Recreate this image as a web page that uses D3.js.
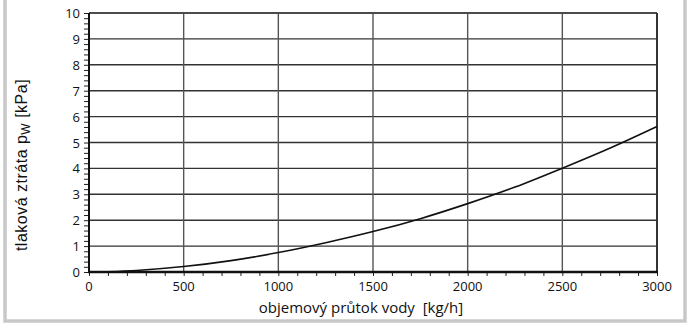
<!DOCTYPE html>
<html>
<head>
<meta charset="utf-8">
<script src="https://cdn.jsdelivr.net/npm/d3@7"></script>
<style>
  html, body { margin: 0; padding: 0; background: #fff; }
  svg { display: block; }
</style>
</head>
<body>
<svg id="chart" width="690" height="324"></svg>
<script>
// Water flow rate [kg/h] and pressure loss [kPa]
const flowRates = [100, 250, 500, 750, 1000, 1250, 1500, 1750, 2000, 2250, 2500, 2750, 3000];
const pressureLoss = [0.01, 0.06, 0.21, 0.44, 0.75, 1.13, 1.56, 2.06, 2.64, 3.28, 4.01, 4.78, 5.62];
const xTicks = [0, 500, 1000, 1500, 2000, 2500, 3000];
const yTicks = [0, 1, 2, 3, 4, 5, 6, 7, 8, 9, 10];

const svg = d3.select("#chart");
const m = { left: 89, right: 657, top: 13, bottom: 272 };

// outer frame
svg.append("rect").attr("x", 5).attr("y", -4).attr("width", 680).attr("height", 325)
  .attr("fill", "#fff").attr("stroke", "#c8c8c8").attr("stroke-width", 3.5);

const x = d3.scaleLinear().domain([0, 3000]).range([m.left, m.right]);
const y = d3.scaleLinear().domain([0, 10]).range([m.bottom, m.top]);

// grid
const grid = svg.append("g");
grid.selectAll("line.h").data(yTicks.slice(1)).join("line")
  .attr("x1", m.left).attr("x2", m.right)
  .attr("y1", d => y(d)).attr("y2", d => y(d))
  .attr("stroke", "#333").attr("stroke-width", 1.4);
grid.selectAll("line.v").data(xTicks.slice(1)).join("line")
  .attr("y1", m.top).attr("y2", m.bottom)
  .attr("x1", d => x(d)).attr("x2", d => x(d))
  .attr("stroke", "#555").attr("stroke-width", 1.4);

// minor ticks
const yMinor = d3.range(0, 10.001, 0.2);
const xMinor = d3.range(0, 3000.1, 100);

const yAxis = d3.axisLeft(y).tickValues(yMinor).tickSize(5).tickFormat("");
const xAxis = d3.axisBottom(x).tickValues(xMinor).tickSize(4).tickFormat("");

const gy = svg.append("g").attr("transform", `translate(${m.left},0)`).call(yAxis);
const gx = svg.append("g").attr("transform", `translate(0,${m.bottom})`).call(xAxis);
[gy, gx].forEach(g => {
  g.select(".domain").remove();
  g.selectAll(".tick line").attr("stroke", "#222").attr("stroke-width", 1);
});

// major tick labels
svg.append("g").selectAll("text").data(yTicks).join("text")
  .attr("x", 80).attr("y", d => y(d) + 5)
  .attr("text-anchor", "end")
  .attr("font-family", "'Open Sans', sans-serif").attr("font-size", 13)
  .attr("fill", "#111")
  .text(d => d);
svg.append("g").selectAll("text").data(xTicks).join("text")
  .attr("x", d => x(d)).attr("y", 291)
  .attr("text-anchor", "middle")
  .attr("font-family", "'Open Sans', sans-serif").attr("font-size", 13)
  .attr("fill", "#111")
  .text(d => d);

// plot frame
svg.append("line").attr("x1", m.left).attr("x2", m.right).attr("y1", m.top).attr("y2", m.top)
  .attr("stroke", "#444").attr("stroke-width", 1.5);
svg.append("line").attr("x1", m.right).attr("x2", m.right).attr("y1", m.top).attr("y2", m.bottom)
  .attr("stroke", "#333").attr("stroke-width", 2);
svg.append("line").attr("x1", m.left).attr("x2", m.left).attr("y1", m.top).attr("y2", m.bottom + 1)
  .attr("stroke", "#111").attr("stroke-width", 2);
svg.append("line").attr("x1", m.left - 1).attr("x2", m.right + 1).attr("y1", m.bottom).attr("y2", m.bottom)
  .attr("stroke", "#111").attr("stroke-width", 2.5);

// curve
const line = d3.line()
  .x((d, i) => x(flowRates[i]))
  .y(d => y(d))
  .curve(d3.curveMonotoneX);
svg.append("path").datum(pressureLoss)
  .attr("d", line)
  .attr("fill", "none").attr("stroke", "#111").attr("stroke-width", 1.6);

// axis titles
svg.append("text")
  .attr("x", 361).attr("y", 313)
  .attr("text-anchor", "middle")
  .attr("font-family", "'Open Sans', sans-serif").attr("font-size", 15)
  .attr("fill", "#111")
  .text("objemový průtok vody\u00a0\u00a0[kg/h]");

const yt = svg.append("text")
  .attr("transform", "translate(27,165) rotate(-90)")
  .attr("text-anchor", "middle")
  .attr("font-family", "'Liberation Sans', Arial, sans-serif").attr("font-size", 16)
  .attr("letter-spacing", 0.5)
  .attr("fill", "#111");
yt.append("tspan").text("tlaková ztráta p");
yt.append("tspan").attr("font-size", 12).attr("dy", 3).text("W");
yt.append("tspan").attr("dy", -3).text(" [kPa]");
</script>
</body>
</html>
